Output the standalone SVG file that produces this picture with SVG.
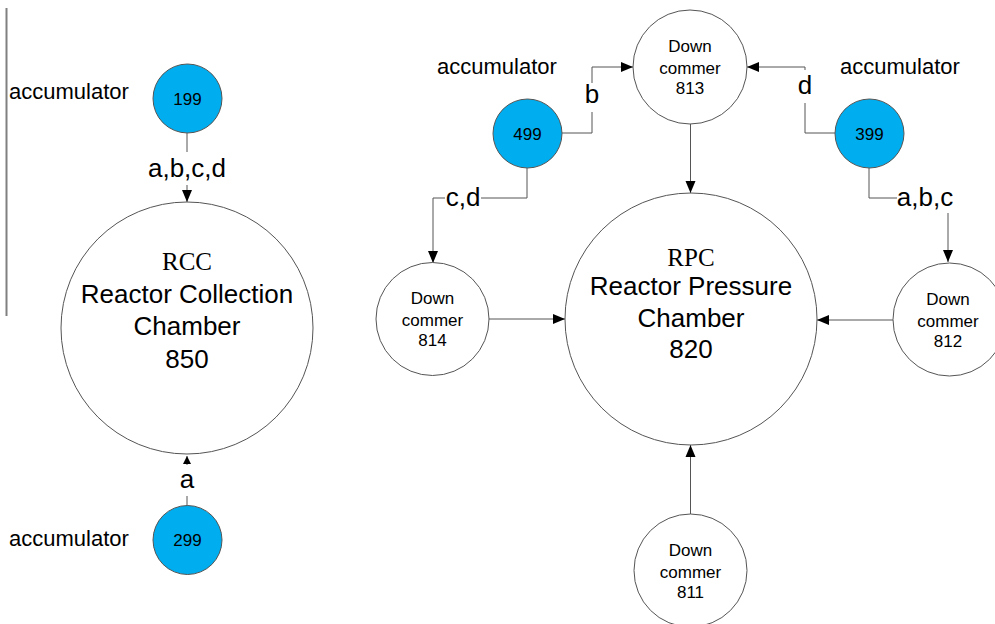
<svg xmlns="http://www.w3.org/2000/svg" width="995" height="624" viewBox="0 0 995 624">
<defs>
<style>
.bg{fill:#ffffff}
.node{fill:#ffffff;stroke:#555555;stroke-width:1}
.acc{fill:#00AEEF;stroke:#555555;stroke-width:1}
.conn{fill:none;stroke:#555555;stroke-width:1}
.t{font-family:"Liberation Sans",Arial,sans-serif;fill:#000000;text-anchor:middle}
.dc{font-size:17px}
.num{font-size:17px}
.big{font-size:26px}
.lbl{font-size:26px}
.accl{font-family:"Liberation Sans",Arial,sans-serif;font-size:22px;fill:#000000}
.serif{font-family:"Liberation Serif","Times New Roman",serif;font-size:25px;fill:#000000;text-anchor:middle}
</style>
<marker id="arr" markerUnits="userSpaceOnUse" markerWidth="12" markerHeight="12" viewBox="0 0 12 10" refX="12" refY="5" orient="auto">
<path d="M0,0 L12,5 L0,10 Z" fill="#000000"/>
</marker>
<marker id="arrs" markerUnits="userSpaceOnUse" markerWidth="8" markerHeight="8" viewBox="0 0 8 8" refX="8" refY="4" orient="auto">
<path d="M0,0 L8,4 L0,8 Z" fill="#000000"/>
</marker>
</defs>
<rect class="bg" x="0" y="0" width="995" height="624"/>
<path d="M6.5,8 V316" stroke="#808080" stroke-width="2" fill="none"/>

<g id="connectors">
<path class="conn" d="M187,133 V152"/>
<path class="conn" d="M187,185 V202" marker-end="url(#arr)"/>
<text class="t lbl" x="187" y="177">a,b,c,d</text>

<path class="conn" d="M187,506 V496"/>
<path class="conn" d="M187,465 V456" marker-end="url(#arrs)"/>
<text class="t lbl" x="187" y="488">a</text>

<path class="conn" d="M562,133 H592 V112"/>
<path class="conn" d="M592,83 V67 H633" marker-end="url(#arr)"/>
<text class="t lbl" x="592" y="103">b</text>

<path class="conn" d="M835,133 H805 V103"/>
<path class="conn" d="M805,70 V67 H747" marker-end="url(#arr)"/>
<text class="t lbl" x="805" y="94">d</text>

<path class="conn" d="M527,168 V198 H481"/>
<path class="conn" d="M445,198 H433 V263" marker-end="url(#arr)"/>
<text class="t lbl" x="463" y="206">c,d</text>

<path class="conn" d="M869,168 V198 H897"/>
<path class="conn" d="M948,213 V262" marker-end="url(#arr)"/>
<text class="t lbl" x="925" y="206">a,b,c</text>

<path class="conn" d="M690.5,124 V193" marker-end="url(#arr)"/>
<path class="conn" d="M489,319 H565" marker-end="url(#arr)"/>
<path class="conn" d="M893,320 H817" marker-end="url(#arr)"/>
<path class="conn" d="M690.5,514 V445" marker-end="url(#arr)"/>
</g>

<g id="acc199">
<text class="accl" x="9" y="99">accumulator</text>
<circle class="acc" cx="187.5" cy="98.5" r="34.5"/>
<text class="t num" x="187.5" y="104.5">199</text>
</g>

<g id="acc299">
<text class="accl" x="9" y="546">accumulator</text>
<circle class="acc" cx="187.5" cy="540" r="34.5"/>
<text class="t num" x="187.5" y="546">299</text>
</g>

<g id="acc499">
<text class="accl" x="437" y="74">accumulator</text>
<circle class="acc" cx="527.5" cy="133.5" r="34.5"/>
<text class="t num" x="527.5" y="139.5">499</text>
</g>

<g id="acc399">
<text class="accl" x="840" y="74">accumulator</text>
<circle class="acc" cx="869.5" cy="133.5" r="34.5"/>
<text class="t num" x="869.5" y="139.5">399</text>
</g>

<g id="rcc850">
<circle class="node" cx="187" cy="328" r="126"/>
<text class="serif" x="187" y="270">RCC</text>
<text class="t big" x="187" y="303">Reactor Collection</text>
<text class="t big" x="187" y="335">Chamber</text>
<text class="t big" x="187" y="368">850</text>
</g>

<g id="rpc820">
<circle class="node" cx="691" cy="319" r="126"/>
<text class="serif" x="691" y="266">RPC</text>
<text class="t big" x="691" y="295">Reactor Pressure</text>
<text class="t big" x="691" y="327">Chamber</text>
<text class="t big" x="691" y="358">820</text>
</g>

<g id="dc813">
<circle class="node" cx="690" cy="67" r="57"/>
<text class="t dc" x="690" y="52">Down</text>
<text class="t dc" x="690" y="74">commer</text>
<text class="t dc" x="690" y="94">813</text>
</g>

<g id="dc814">
<circle class="node" cx="432.5" cy="319" r="56.5"/>
<text class="t dc" x="432.5" y="304">Down</text>
<text class="t dc" x="432.5" y="326">commer</text>
<text class="t dc" x="432.5" y="346">814</text>
</g>

<g id="dc812">
<circle class="node" cx="949.5" cy="319.5" r="56.5"/>
<text class="t dc" x="948" y="304.5">Down</text>
<text class="t dc" x="948" y="326.5">commer</text>
<text class="t dc" x="948" y="346.5">812</text>
</g>

<g id="dc811">
<circle class="node" cx="690.5" cy="570.5" r="56.5"/>
<text class="t dc" x="690.5" y="556">Down</text>
<text class="t dc" x="690.5" y="578">commer</text>
<text class="t dc" x="690.5" y="598">811</text>
</g>
</svg>
